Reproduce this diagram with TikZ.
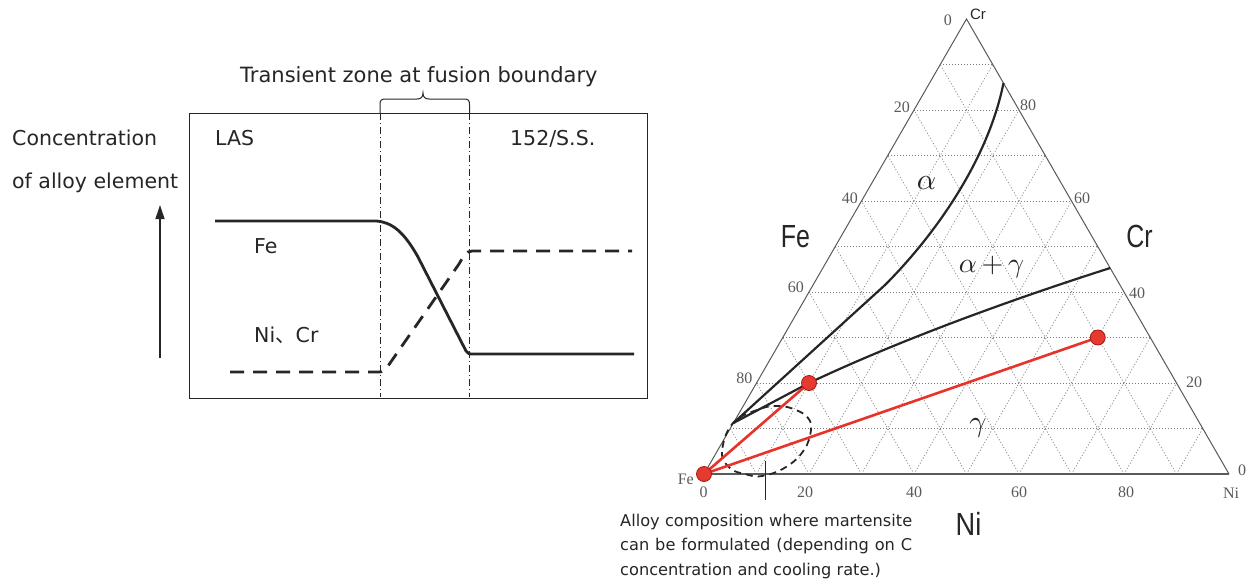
\documentclass[tikz,border=0pt]{standalone}
\usepackage{graphicx}
\usepackage{fontspec}
\setmainfont{DejaVu Sans}
\newfontfamily\serifnum{Liberation Serif}
\newfontfamily\bigsans{Liberation Sans}
\newfontfamily\cjk{Noto Sans CJK JP}
\usetikzlibrary{calc,arrows.meta}
\definecolor{ink}{HTML}{262626}
\definecolor{gridgray}{HTML}{7C7C7C}
\definecolor{axisgray}{HTML}{5A5A5A}
\definecolor{redline}{HTML}{E8332B}
\definecolor{dotred}{HTML}{E53A2F}
\definecolor{dotedge}{HTML}{A8170F}
\begin{document}
\begin{tikzpicture}[x=1pt,y=-1pt,
  txt/.style={inner sep=0pt, text=ink, font=\fontsize{20.5}{24}\selectfont},
  small/.style={inner sep=0pt, text=axisgray, font=\serifnum\fontsize{16}{16}\selectfont},
  bigl/.style={inner sep=0pt, text=ink, font=\bigsans\fontsize{32}{32}\selectfont},
  greek/.style={inner sep=0pt, text=ink},
  note/.style={inner sep=0pt, text=ink, font=\fontsize{16.2}{20}\selectfont, anchor=base west},
  gridline/.style={gridgray, line width=0.7pt, dash pattern=on 1pt off 2pt},
  edgeline/.style={axisgray, line width=1pt},
  phase/.style={ink, line width=2.2pt, line join=round},
  redseg/.style={redline, line width=2.6pt},
  reddot/.style={circle, fill=dotred, draw=dotedge, line width=0.8pt, minimum size=15pt, inner sep=0pt},
  dashdot/.style={ink, line width=0.9pt, dash pattern=on 7pt off 3pt on 1pt off 3pt},
  fecurve/.style={ink, line width=2.8pt, line join=round},
  nicurve/.style={ink, line width=2.8pt, dash pattern=on 14pt off 9pt},
]
\fill[white] (0,0) rectangle (1256,584);
\useasboundingbox (0,0) rectangle (1256,584);

% ---------------- left panel ----------------
\node[txt, anchor=base west] (conc) at (12,145) {Concentration};
\node[txt, anchor=base west] (alloy) at (12,188) {of alloy element};
\coordinate (arrS) at (160,358);
\coordinate (arrE) at (160,205);
\draw[ink, line width=1.3pt, -{Triangle[length=14pt,width=9pt]}] (arrS) -- (arrE);

\node[draw=ink, line width=1.4pt, minimum width=458.5pt, minimum height=285pt,
      anchor=north west, inner sep=0pt] (box) at (188.5,112.5) {};
\node[txt, anchor=base west] (las) at (215,145) {LAS};
\node[txt, anchor=base west] (ss) at (510,145) {152/S.S.};
\node[txt, anchor=base west] (felab) at (254,253) {Fe};
\node[txt, anchor=base west] (nicr) at (254,342) {Ni{\cjk 、}Cr};
\node[txt, font=\fontsize{21}{24}\selectfont, anchor=base west] (trans) at (240,82) {Transient zone at fusion boundary};

\draw[dashdot] (380,113) -- (380,397);
\draw[dashdot] (469.5,113) -- (469.5,397);
\draw[ink, line width=1pt] (380,113) -- (380,105) .. controls (380,100) and (381,99) .. (386,99)
  -- (417,99) .. controls (421,99) and (423,97) .. (423,93)
  .. controls (423,97) and (425,99) .. (429,99) -- (463.5,99)
  .. controls (468.5,99) and (469.5,100) .. (469.5,105) -- (469.5,113);

\draw[fecurve] (215,221) -- (376,221) .. controls (392,222) and (404,232) .. (418,257)
  -- (466,351) .. controls (467.5,353.5) and (469,354) .. (473,354) -- (634,354);
\draw[nicurve] (230,372) -- (379,372) .. controls (383,372) and (385,370) .. (388,366)
  -- (459,264) .. controls (463,257) and (466,251) .. (472,251) -- (632,251);

% ---------------- ternary diagram ----------------
\coordinate (TFe) at (704,474);
\coordinate (TNi) at (1229,474);
\coordinate (TCr) at (966.5,19);
\foreach \i in {1,...,9}{
  \draw[gridline] ($(TFe)!\i/10!(TCr)$) -- ($(TNi)!\i/10!(TCr)$);
  \draw[gridline] ($(TFe)!\i/10!(TNi)$) -- ($(TCr)!\i/10!(TNi)$);
  \draw[gridline] ($(TNi)!\i/10!(TFe)$) -- ($(TCr)!\i/10!(TFe)$);
}
\draw[edgeline] (TFe) -- (TCr) -- (TNi);
\draw[axisgray, line width=1.6pt] (TFe) -- (TNi);

% martensite region
\draw[ink, line width=1.8pt, dash pattern=on 7pt off 5pt]
  plot[smooth cycle, tension=0.7] coordinates {(733,423) (722,452) (730,468) (745,474) (762,476)
   (786,467) (804,450) (811,430) (808,418) (796,410) (779,406) (760,409)};
\coordinate (ptA) at (765.5,461);
\coordinate (ptB) at (765.5,500);
\draw[ink, line width=1pt] (ptA) -- (ptB);

% phase boundaries
\coordinate (P1) at (809,383);
\coordinate (P2) at (1097.75,337.5);
\coordinate (kink) at (733.4,423);
\coordinate (aTop) at (1003.5,83);
\coordinate (aMid) at (885,285);
\coordinate (gTop) at (1110.2,268);
\draw[phase] (aTop) .. controls (988,160) and (935,235) .. (aMid) -- (kink);
\draw[phase] (gTop) .. controls (1010,300) and (900,340) .. (P1) -- (kink);

% red tie lines and points
\draw[redseg] (TFe) -- (P1);
\draw[redseg] (TFe) -- (P2);
\node[reddot] (dFe) at (TFe) {};
\node[reddot] (d1) at (P1) {};
\node[reddot] (d2) at (P2) {};

% axis labels
\node[small, anchor=east] (l0) at (952,20) {0};
\node[small, anchor=east] (l20) at (910,107) {20};
\node[small, anchor=east] (l40) at (858,198) {40};
\node[small, anchor=east] (l60) at (804,287) {60};
\node[small, anchor=east] (l80) at (752.5,378) {80};
\node[small, anchor=west] (r80) at (1020,105) {80};
\node[small, anchor=west] (r60) at (1074,198) {60};
\node[small, anchor=west] (r40) at (1129,293) {40};
\node[small, anchor=west] (r20) at (1186,382) {20};
\node[small, anchor=west] (r0) at (1238,470) {0};
\node[small] (b0) at (703.6,492) {0};
\node[small] (b20) at (805,492) {20};
\node[small] (b40) at (914,492) {40};
\node[small] (b60) at (1019,492) {60};
\node[small] (b80) at (1126,492) {80};
\node[small] (bNi) at (1231,493) {Ni};
\node[small, anchor=east] (sFe) at (694,479) {Fe};
\node[inner sep=0pt, text=ink, font=\bigsans\fontsize{15}{15}\selectfont] (sCr) at (978,14) {Cr};

\node[bigl] (bigFe) at (795.5,237) {\scalebox{0.78}[1]{Fe}};
\node[bigl] (bigCr) at (1139.5,236) {\scalebox{0.78}[1]{Cr}};
\node[bigl] (bigNi) at (968.5,523.5) {\scalebox{0.85}[1]{Ni}};

\node[greek] (ga) at (926.5,183.5) {\scalebox{3}{$\alpha$}};
\node[greek] (gag) at (991.5,267) {\scalebox{2.8}{$\alpha\,{+}\,\gamma$}};
\node[greek] (gg) at (978,428) {\scalebox{3}{$\gamma$}};

% note
\node[note] (n1) at (620,526) {\makebox[292pt][s]{Alloy composition where martensite}};
\node[note] (n2) at (620,550.5) {\makebox[292pt][s]{can be formulated (depending on C}};
\node[note] (n3) at (620,575) {concentration and cooling rate.)};
\end{tikzpicture}
\end{document}
